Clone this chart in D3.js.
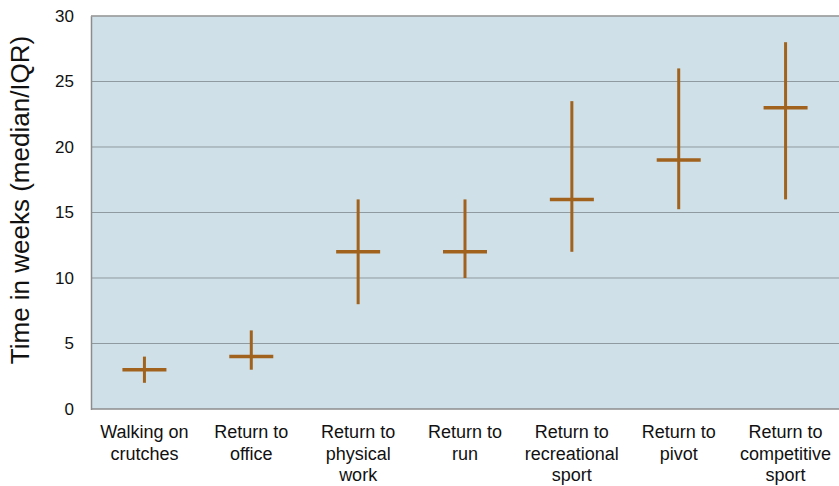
<!DOCTYPE html>
<html><head><meta charset="utf-8">
<script src="https://cdn.jsdelivr.net/npm/d3@7"></script>
<style>body{margin:0;background:#fff;}svg{display:block;font-family:"Liberation Sans",Arial,Helvetica,sans-serif;}</style>
</head><body><svg id="c" width="839" height="486"></svg>
<script>
const categories = [["Walking on","crutches"],["Return to","office"],["Return to","physical","work"],["Return to","run"],["Return to","recreational","sport"],["Return to","pivot"],["Return to","competitive","sport"]];
const medians = [3, 4, 12, 12, 16, 19, 23];
const q1 = [2, 3, 8, 10, 12, 15.25, 16];
const q3 = [4, 6, 16, 16, 23.5, 26, 28];
const yTicks = [0, 5, 10, 15, 20, 25, 30];
const yLabel = "Time in weeks (median/IQR)";

const svg = d3.select("#c");
const m = {l:91, r:839, t:16, b:409};
const x = d3.scaleBand().domain(d3.range(categories.length)).range([m.l, m.r]);
const y = d3.scaleLinear().domain([0, 30]).range([m.b, m.t]);
const col = "#a0621c";

svg.append("rect").attr("x", m.l).attr("y", m.t).attr("width", m.r - m.l).attr("height", m.b - m.t).attr("fill", "#d0e0e8");

svg.append("g").selectAll("line").data(yTicks.filter(d => d > 0)).join("line")
  .attr("x1", m.l).attr("x2", m.r).attr("y1", d => y(d)).attr("y2", d => y(d))
  .attr("stroke", "#8e9a9f").attr("stroke-width", 1);

// axes lines
svg.append("line").attr("x1", m.l + 0.5).attr("x2", m.l + 0.5).attr("y1", m.t).attr("y2", m.b + 1).attr("stroke", "#8c8c8c").attr("stroke-width", 1.5);
svg.append("line").attr("x1", m.l).attr("x2", m.r).attr("y1", m.b).attr("y2", m.b).attr("stroke", "#8c8c8c").attr("stroke-width", 1.5);
svg.append("line").attr("x1", m.l).attr("x2", m.r).attr("y1", m.t).attr("y2", m.t).attr("stroke", "#a0a0a0").attr("stroke-width", 1.5);

// y tick labels
const yAxis = d3.axisLeft(y).tickValues(yTicks).tickSize(0).tickPadding(17);
const ga = svg.append("g").attr("transform", `translate(${m.l},0)`).call(yAxis);
ga.select(".domain").remove();
ga.selectAll("text").attr("font-size", 17).attr("fill", "#111").attr("font-family", "Liberation Sans, Arial, sans-serif");

// y label
svg.append("text").attr("transform", `translate(29,${200}) rotate(-90)`)
  .attr("text-anchor", "middle").attr("font-size", 26).attr("fill", "#111").text(yLabel);

// x labels
const xl = svg.append("g").selectAll("text").data(categories).join("text")
  .attr("text-anchor", "middle").attr("font-size", 18).attr("fill", "#111")
  .attr("x", (d, i) => x(i) + x.bandwidth() / 2).attr("y", 438);
xl.selectAll("tspan").data(d => d).join("tspan")
  .attr("x", function(){ return this.parentNode.getAttribute("x"); })
  .attr("dy", (d, i) => i === 0 ? 0 : 21.5).text(d => d);

// marks
const g = svg.append("g");
const idx = d3.range(categories.length);
g.selectAll("line.v").data(idx).join("line").attr("class", "v")
  .attr("x1", i => x(i) + x.bandwidth() / 2).attr("x2", i => x(i) + x.bandwidth() / 2)
  .attr("y1", i => y(q1[i])).attr("y2", i => y(q3[i]))
  .attr("stroke", col).attr("stroke-width", 3);
g.selectAll("line.h").data(idx).join("line").attr("class", "h")
  .attr("x1", i => x(i) + x.bandwidth() / 2 - 22).attr("x2", i => x(i) + x.bandwidth() / 2 + 22)
  .attr("y1", i => y(medians[i])).attr("y2", i => y(medians[i]))
  .attr("stroke", col).attr("stroke-width", 3.5);
</script></body></html>
